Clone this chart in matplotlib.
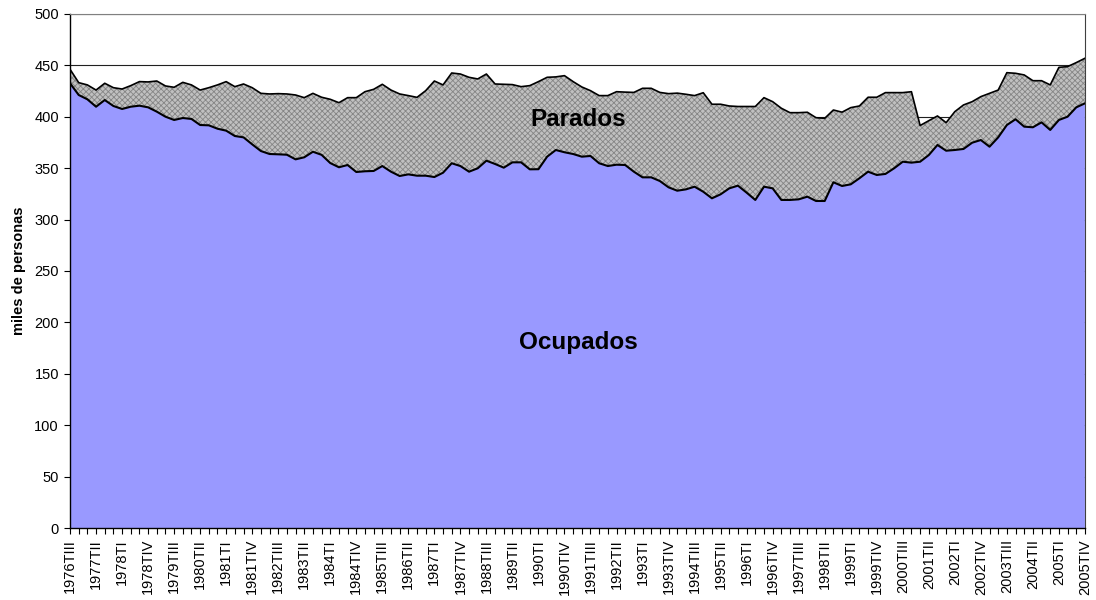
import numpy as np
import matplotlib
matplotlib.use("Agg")
from matplotlib import pyplot as plt

# quarterly series, 1976TIII .. 2005TIV (miles de personas)
ocupados = [432.6, 421.2, 417.0, 409.8, 416.3, 410.5, 407.6, 409.8, 410.8, 409.2,
            405.0, 400.1, 396.9, 398.8, 397.9, 392.0, 391.7, 388.4, 386.5, 381.3,
            380.0, 373.2, 366.7, 363.8, 363.5, 363.1, 358.6, 360.6, 366.0, 363.0,
            355.0, 350.9, 353.1, 346.3, 347.0, 347.3, 352.1, 346.6, 342.4, 344.0,
            342.7, 342.7, 341.4, 345.6, 354.8, 352.1, 346.6, 349.9, 357.3, 354.1,
            350.5, 355.7, 355.7, 348.9, 349.0, 361.2, 367.7, 365.5, 363.8, 361.2,
            361.9, 354.8, 352.1, 353.4, 353.1, 346.6, 341.1, 341.1, 337.5, 331.4,
            328.1, 329.4, 332.0, 327.1, 320.7, 324.6, 330.4, 333.0, 326.2, 319.1,
            332.0, 330.4, 319.1, 319.1, 319.7, 322.3, 318.1, 318.1, 336.3, 332.7,
            334.3, 340.2, 346.6, 343.4, 344.4, 349.9, 356.3, 355.4, 356.3, 362.8,
            372.6, 367.0, 367.7, 368.7, 374.8, 377.4, 370.9, 380.0, 392.0, 397.6,
            390.4, 389.8, 394.6, 387.2, 396.9, 400.1, 409.2, 413.1]

activos = [446.2, 433.2, 431.0, 426.0, 432.6, 428.3, 427.0, 430.3, 434.2, 433.9,
           434.8, 430.0, 428.7, 433.5, 431.0, 426.0, 428.3, 431.0, 434.2, 429.3,
           431.9, 428.3, 422.8, 422.2, 422.5, 422.2, 421.2, 418.6, 422.8, 419.0,
           417.0, 413.7, 418.6, 418.6, 424.4, 426.7, 431.6, 426.0, 422.2, 420.6,
           418.9, 425.4, 434.8, 431.0, 442.6, 441.6, 438.4, 436.8, 441.6, 431.9,
           431.6, 431.3, 429.3, 430.3, 434.2, 438.4, 438.8, 440.0, 434.2, 429.0,
           425.4, 420.6, 420.6, 424.4, 424.0, 423.7, 427.7, 427.7, 423.7, 422.5,
           423.0, 421.9, 420.6, 423.4, 412.2, 412.2, 410.5, 410.0, 410.0, 410.0,
           418.6, 414.7, 408.3, 404.0, 404.0, 404.4, 399.1, 398.5, 406.6, 404.5,
           408.9, 410.5, 419.0, 419.0, 423.5, 423.5, 423.5, 424.4, 391.5, 396.2,
           400.8, 394.3, 405.0, 411.5, 414.7, 419.6, 422.8, 426.0, 442.9, 442.3,
           440.7, 435.1, 435.1, 431.0, 448.1, 448.8, 452.7, 456.9]

roman = ["I", "II", "III", "IV"]
quarters = [f"{1976 + (q + 2) // 4}T{roman[(q + 2) % 4]}" for q in range(len(ocupados))]

ocupados = np.array(ocupados)
parados = np.array(activos) - ocupados
x = np.arange(len(quarters))

plt.rcParams['font.family'] = ['Liberation Sans', 'DejaVu Sans']
plt.rcParams['hatch.linewidth'] = 0.6

fig = plt.figure(figsize=(10.96, 6.0), dpi=100)
ax = fig.add_axes([0.0639, 0.12, 0.926, 0.8567])

ax.yaxis.grid(True, color='#202020', linewidth=0.8, zorder=0)
ax.set_axisbelow(True)

ax.fill_between(x, 0, ocupados, facecolor='#9999ff', edgecolor='none', zorder=2)
ax.fill_between(x, ocupados, ocupados + parados, facecolor='#c0c0c0',
                edgecolor='#858585', hatch='xxxxxx', linewidth=0, zorder=2)
ax.plot(x, ocupados, color='black', linewidth=1.5, zorder=3)
ax.plot(x, ocupados + parados, color='black', linewidth=1.2, zorder=3)

ax.text(58.6, 397, "Parados", ha='center', va='center', fontsize=17.5, fontweight='bold', zorder=4)
ax.text(58.6, 180, "Ocupados", ha='center', va='center', fontsize=17.5, fontweight='bold', zorder=4)

ax.set_xlim(0, len(x) - 1)
ax.set_ylim(0, 500)
ax.set_yticks(np.arange(0, 501, 50))
ax.set_xticks(x[::3])
ax.set_xticklabels(quarters[::3], rotation=90, fontsize=10.5)
ax.set_xticks(x, minor=True)
ax.tick_params(axis='x', which='both', direction='out', length=4, width=0.8, pad=4)
ax.tick_params(axis='y', direction='out', length=4, width=0.8, labelsize=10.5, pad=4)
ax.set_ylabel("miles de personas", fontsize=10.5, fontweight='bold', labelpad=6)

for side in ['left', 'bottom']:
    ax.spines[side].set_color('black')
    ax.spines[side].set_linewidth(1.0)
ax.spines['top'].set_color('#808080')
ax.spines['right'].set_color('#404040')

fig.savefig("out.png", dpi=100)
